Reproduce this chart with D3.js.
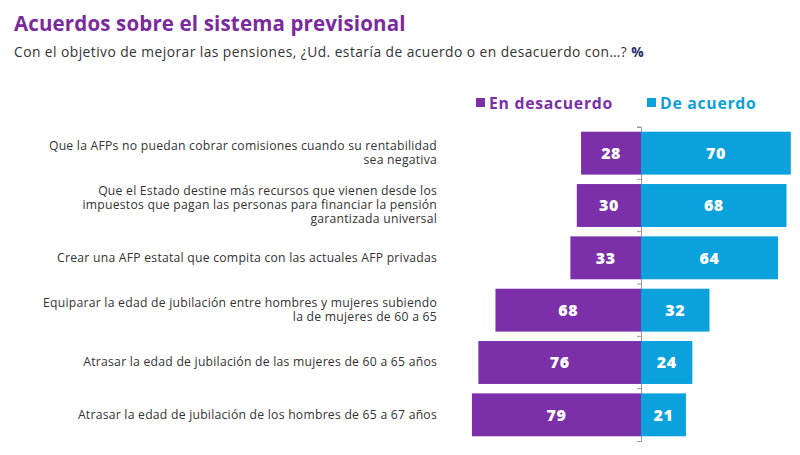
<!DOCTYPE html>
<html><head><meta charset="utf-8">
<script src="https://cdn.jsdelivr.net/npm/d3@7"></script>
<style>body{margin:0;background:#fff}svg{display:block}text{font-family:"Open Sans",sans-serif}</style>
</head><body><svg id="c" width="800" height="455"></svg>
<script>
const categories = [
  ["Que la AFPs no puedan cobrar comisiones cuando su rentabilidad", "sea negativa"],
  ["Que el Estado destine más recursos que vienen desde los", "impuestos que pagan las personas para financiar la pensión", "garantizada universal"],
  ["Crear una AFP estatal que compita con las actuales AFP privadas"],
  ["Equiparar la edad de jubilación entre hombres y mujeres subiendo", "la de mujeres de 60 a 65"],
  ["Atrasar la edad de jubilación de las mujeres de 60 a 65 años"],
  ["Atrasar la edad de jubilación de los hombres de 65 a 67 años"]
];
const enDesacuerdo = [28, 30, 33, 68, 76, 79];
const deAcuerdo = [70, 68, 64, 32, 24, 21];
const seriesNames = ["En desacuerdo", "De acuerdo"];
const colors = ["#7B2FA8", "#0AA1DD"];

const svg = d3.select("#c");
const cx = 641;
const x = d3.scaleLinear().domain([-100, 100]).range([cx - 214, cx + 214]);
const y = d3.scaleBand().domain(d3.range(categories.length)).range([127, 441]).paddingInner(0.18).paddingOuter(0.09);

svg.append("text").attr("x", 14).attr("y", 31).attr("fill", "#7B2A9E")
  .style("font-size", "20.5px").style("font-weight", 700).style("letter-spacing", "0.15px").text("Acuerdos sobre el sistema previsional");
const sub = svg.append("text").attr("x", 14).attr("y", 57).attr("fill", "#333").style("font-size", "13.8px").style("letter-spacing", "0.45px");
sub.append("tspan").text("Con el objetivo de mejorar las pensiones, ¿Ud. estaría de acuerdo o en desacuerdo con…? ");
sub.append("tspan").attr("fill", "#2A2A6A").style("font-weight", 700).text("%");

// legend
const leg = [{x: 476, tx: 489}, {x: 647, tx: 660}];
leg.forEach((l, i) => {
  svg.append("rect").attr("x", l.x).attr("y", 98).attr("width", 9).attr("height", 9).attr("fill", colors[i]);
  svg.append("text").attr("x", l.tx).attr("y", 109).attr("fill", colors[i])
    .style("font-size", "15.8px").style("font-weight", 700).style("letter-spacing", "0.7px").text(seriesNames[i]);
});

// axis line
const axis = d3.axisLeft(y).tickSize(4).tickFormat("");
const ag = svg.append("g").attr("transform", `translate(${cx},0)`).call(axis);
ag.select(".domain").attr("stroke", "#999");
ag.selectAll(".tick line").attr("stroke", "#999").attr("transform", `translate(0,${-y.step()/2})`);

const rows = svg.append("g").selectAll("g").data(categories).join("g");
rows.append("rect").attr("x", (d, i) => x(-enDesacuerdo[i])).attr("y", (d, i) => y(i))
  .attr("width", (d, i) => x(0) - x(-enDesacuerdo[i])).attr("height", y.bandwidth()).attr("fill", colors[0]);
rows.append("rect").attr("x", x(0)).attr("y", (d, i) => y(i))
  .attr("width", (d, i) => x(deAcuerdo[i]) - x(0)).attr("height", y.bandwidth()).attr("fill", colors[1]);
rows.append("text").attr("x", (d, i) => (x(-enDesacuerdo[i]) + x(0)) / 2).attr("y", (d, i) => y(i) + y.bandwidth() / 2)
  .attr("dy", "0.36em").attr("text-anchor", "middle").attr("fill", "#fff").style("font-size", "16px").style("font-weight", 800).style("letter-spacing", "0.5px")
  .text((d, i) => enDesacuerdo[i]);
rows.append("text").attr("x", (d, i) => (x(deAcuerdo[i]) + x(0)) / 2).attr("y", (d, i) => y(i) + y.bandwidth() / 2)
  .attr("dy", "0.36em").attr("text-anchor", "middle").attr("fill", "#fff").style("font-size", "16px").style("font-weight", 800).style("letter-spacing", "0.5px")
  .text((d, i) => deAcuerdo[i]);

const lh = 14;
rows.append("text").attr("text-anchor", "end").attr("fill", "#333").style("font-size", "12.2px").style("letter-spacing", "0.24px")
  .each(function(d, i) {
    const t = d3.select(this);
    const c = y(i) + y.bandwidth() / 2 - 0.5;
    d.forEach((line, j) => {
      t.append("tspan").attr("x", 437).attr("y", c + (j - (d.length - 1) / 2) * lh).attr("dy", "0.35em").text(line);
    });
  });
</script></body></html>
